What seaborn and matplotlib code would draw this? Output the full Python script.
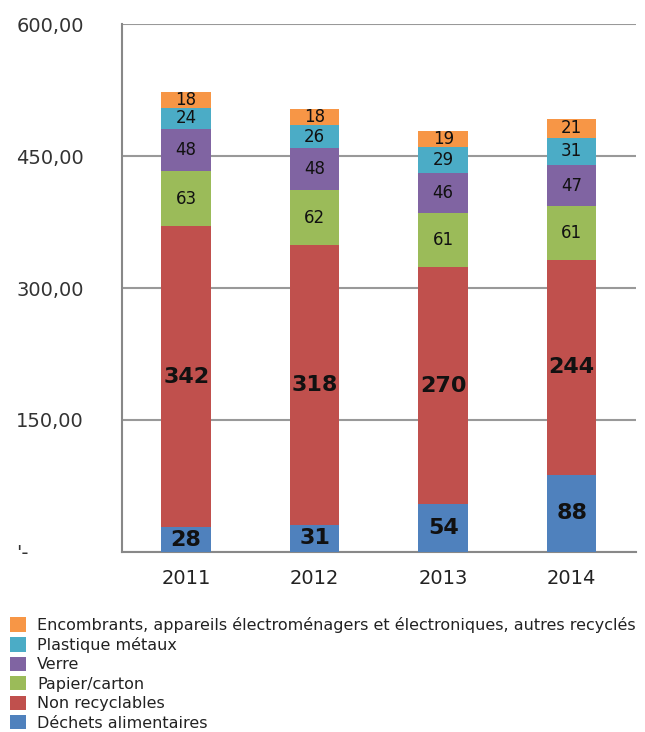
import pandas as pd
import matplotlib.pyplot as plt
import seaborn as sns

years = [2011, 2012, 2013, 2014]
categories = ['Encombrants, appareils électroménagers et électroniques, autres recyclés',
              'Plastique métaux', 'Verre', 'Papier/carton', 'Non recyclables',
              'Déchets alimentaires']
encombrants = [18, 18, 19, 21]
plastique = [24, 26, 29, 31]
verre = [48, 48, 46, 47]
papier = [63, 62, 61, 61]
non_recyclables = [342, 318, 270, 244]
dechets = [28, 31, 54, 88]
colors = ['#F79646', '#4BACC6', '#8064A2', '#9BBB59', '#C0504D', '#4F81BD']
ytick_values = [0, 150, 300, 450, 600]
ytick_labels = ["'-", '150,00', '300,00', '450,00', '600,00']

series = [encombrants, plastique, verre, papier, non_recyclables, dechets]
rows = []
for cat, vals in zip(categories, series):
    for y, v in zip(years, vals):
        rows.append({'year': y, 'category': cat, 'value': v})
df = pd.DataFrame(rows)

sns.set_style('white')
fig = plt.figure(figsize=(6.45, 7.32), dpi=100)
ax = fig.add_axes([0.189, 0.246, 0.797, 0.721])

sns.histplot(data=df, x='year', weights='value', hue='category', hue_order=categories,
             multiple='stack', discrete=True, shrink=0.385, palette=colors,
             alpha=1, linewidth=0, ax=ax, zorder=3)

# etiquettes des segments, du bas (Déchets) vers le haut
bold_cats = ['Non recyclables', 'Déchets alimentaires']
for i, y in enumerate(years):
    base = 0
    for cat, vals in reversed(list(zip(categories, series))):
        v = vals[i]
        if cat in bold_cats:
            ax.text(y, base + v / 2, str(v), ha='center', va='center',
                    fontsize=16, fontweight='bold', color='#111111', zorder=5)
        else:
            ax.text(y, base + v / 2, str(v), ha='center', va='center',
                    fontsize=12, color='#111111', zorder=5)
        base += v

ax.set_xlim(2010.5, 2014.5)
ax.set_ylim(0, 600)
ax.set_xticks(years)
ax.set_xticklabels([str(y) for y in years], fontsize=14, color='#222222')
ax.set_xticks([2010.5, 2011.5, 2012.5, 2013.5, 2014.5], minor=True)
ax.tick_params(axis='x', which='major', length=0, pad=12)
ax.tick_params(axis='x', which='minor', length=5, width=1.3, color='#888888', direction='out')
ax.set_yticks(ytick_values)
ax.set_yticklabels(ytick_labels, fontsize=14, color='#333333')
ax.tick_params(axis='y', length=6, width=1.3, color='#888888', direction='out', pad=70)
for lab in ax.get_yticklabels():
    lab.set_horizontalalignment('left')
ax.yaxis.grid(True, color='#999999', linewidth=1.5, zorder=0)
ax.set_axisbelow(True)
ax.set_xlabel('')
ax.set_ylabel('')
for side in ['top', 'right']:
    ax.spines[side].set_visible(False)
for side in ['left', 'bottom']:
    ax.spines[side].set_color('#888888')
    ax.spines[side].set_linewidth(1.5)

sns.move_legend(ax, 'upper left', bbox_to_anchor=(10 / 645, 1 - 617 / 732),
                bbox_transform=fig.transFigure, frameon=False, title=None,
                fontsize=11.5, handlelength=1.0, handleheight=1.0,
                handletextpad=0.7, labelspacing=0.24, borderpad=0, borderaxespad=0)
for t in ax.get_legend().get_texts():
    t.set_color('#222222')

fig.savefig('out.png', dpi=100)
